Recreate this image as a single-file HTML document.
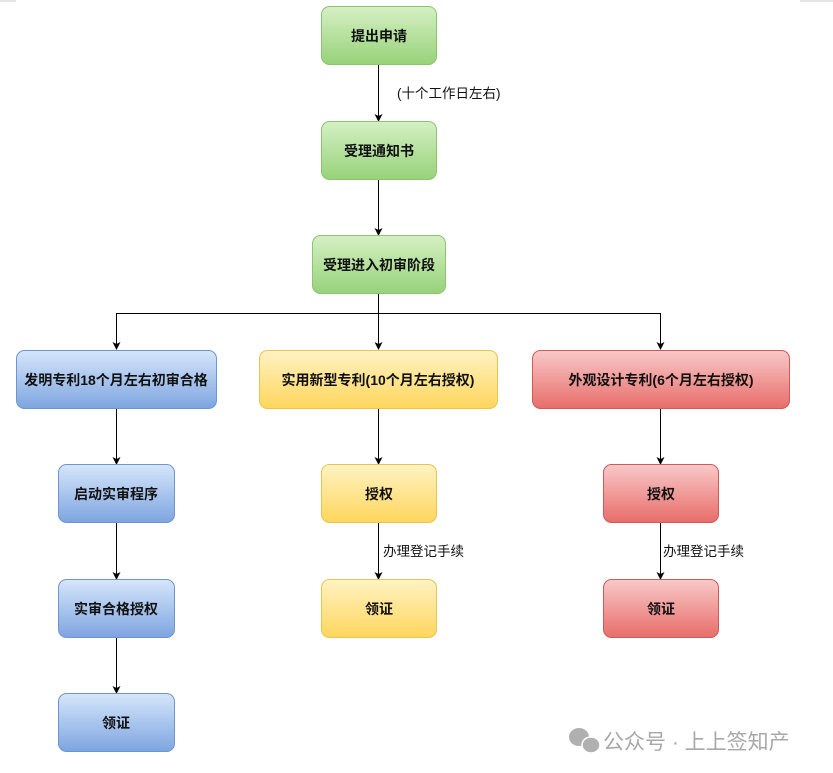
<!DOCTYPE html>
<html><head><meta charset="utf-8"><style>
html,body{margin:0;padding:0;background:#fff;width:833px;height:773px;overflow:hidden}
text{font-family:"Liberation Sans","Noto Sans CJK SC",sans-serif;font-weight:bold;font-size:14px;fill:#111}
.lbl{font-weight:normal;font-size:13.5px}
</style></head><body>
<svg width="833" height="773" viewBox="0 0 833 773" xmlns="http://www.w3.org/2000/svg">
<defs>
<linearGradient id="g" x1="0" y1="0" x2="0" y2="1"><stop offset="0" stop-color="#d5f0c4"/><stop offset="1" stop-color="#97d27a"/></linearGradient>
<linearGradient id="b" x1="0" y1="0" x2="0" y2="1"><stop offset="0" stop-color="#d6e6fb"/><stop offset="1" stop-color="#7ea5e0"/></linearGradient>
<linearGradient id="y" x1="0" y1="0" x2="0" y2="1"><stop offset="0" stop-color="#fff3c4"/><stop offset="1" stop-color="#ffd65c"/></linearGradient>
<linearGradient id="r" x1="0" y1="0" x2="0" y2="1"><stop offset="0" stop-color="#f8c9c9"/><stop offset="1" stop-color="#e86d6a"/></linearGradient>
<marker id="a" markerWidth="8" markerHeight="8" refX="7" refY="4" orient="auto" markerUnits="userSpaceOnUse"><path d="M0,0 L8,4 L0,8 L2,4 z" fill="#000"/></marker>
</defs>
<line x1="0" y1="1" x2="16" y2="1" stroke="#ccc"/><line x1="800" y1="1" x2="833" y2="1" stroke="#ccc"/>
<g stroke="#000" stroke-width="1" fill="none">
<line x1="378.5" y1="64" x2="378.5" y2="121" marker-end="url(#a)"/>
<line x1="378.5" y1="179" x2="378.5" y2="235" marker-end="url(#a)"/>
<line x1="378.5" y1="293" x2="378.5" y2="349" marker-end="url(#a)"/>
<polyline points="116.5,349 116.5,313.5 660.5,313.5 660.5,349" />
<line x1="116.5" y1="313.5" x2="116.5" y2="349" marker-end="url(#a)"/>
<line x1="660.5" y1="313.5" x2="660.5" y2="349" marker-end="url(#a)"/>
<line x1="116.5" y1="408" x2="116.5" y2="464" marker-end="url(#a)"/>
<line x1="116.5" y1="522" x2="116.5" y2="579" marker-end="url(#a)"/>
<line x1="116.5" y1="636" x2="116.5" y2="693" marker-end="url(#a)"/>
<line x1="378.5" y1="408" x2="378.5" y2="464" marker-end="url(#a)"/>
<line x1="378.5" y1="522" x2="378.5" y2="579" marker-end="url(#a)"/>
<line x1="660.5" y1="408" x2="660.5" y2="464" marker-end="url(#a)"/>
<line x1="660.5" y1="522" x2="660.5" y2="579" marker-end="url(#a)"/>
</g>
<g stroke-width="1">
<rect x="321.5" y="6.5" width="115" height="58" rx="8" fill="url(#g)" stroke="#8cc46f"/>
<rect x="321.5" y="121.5" width="115" height="58" rx="8" fill="url(#g)" stroke="#8cc46f"/>
<rect x="312.5" y="235.5" width="133" height="58" rx="8" fill="url(#g)" stroke="#8cc46f"/>
<rect x="16.5" y="350.5" width="200" height="58" rx="8" fill="url(#b)" stroke="#6f95cf"/>
<rect x="259.5" y="350.5" width="238" height="58" rx="8" fill="url(#y)" stroke="#e8c450"/>
<rect x="532.5" y="350.5" width="257" height="58" rx="8" fill="url(#r)" stroke="#cf5b59"/>
<rect x="58.5" y="464.5" width="116" height="58" rx="8" fill="url(#b)" stroke="#6f95cf"/>
<rect x="58.5" y="579.5" width="116" height="58" rx="8" fill="url(#b)" stroke="#6f95cf"/>
<rect x="58.5" y="693.5" width="116" height="58" rx="8" fill="url(#b)" stroke="#6f95cf"/>
<rect x="321.5" y="464.5" width="115" height="58" rx="8" fill="url(#y)" stroke="#e8c450"/>
<rect x="321.5" y="579.5" width="115" height="58" rx="8" fill="url(#y)" stroke="#e8c450"/>
<rect x="603.5" y="464.5" width="115" height="58" rx="8" fill="url(#r)" stroke="#cf5b59"/>
<rect x="603.5" y="579.5" width="115" height="58" rx="8" fill="url(#r)" stroke="#cf5b59"/>
</g>
<g text-anchor="middle">
<text x="379" y="41">提出申请</text>
<text x="379" y="156">受理通知书</text>
<text x="379" y="270">受理进入初审阶段</text>
<text x="116" y="385">发明专利18个月左右初审合格</text>
<text x="378" y="385">实用新型专利(10个月左右授权)</text>
<text x="661" y="385">外观设计专利(6个月左右授权)</text>
<text x="116" y="499">启动实审程序</text>
<text x="116" y="614">实审合格授权</text>
<text x="116" y="728">领证</text>
<text x="379" y="499">授权</text>
<text x="379" y="614">领证</text>
<text x="661" y="499">授权</text>
<text x="661" y="614">领证</text>
</g>
<text class="lbl" x="397" y="98">(十个工作日左右)</text>
<text class="lbl" x="383" y="556">办理登记手续</text>
<text class="lbl" x="663" y="556">办理登记手续</text>
<g fill="#b0b0b0">
<ellipse cx="579" cy="737" rx="10" ry="9"/><ellipse cx="591" cy="745" rx="9" ry="8" stroke="#fff" stroke-width="1.5"/>
</g>
<text x="603" y="749" style="font-weight:normal;font-size:21px;fill:#a8a8a8">公众号 · 上上签知产</text>
</svg>
</body></html>
